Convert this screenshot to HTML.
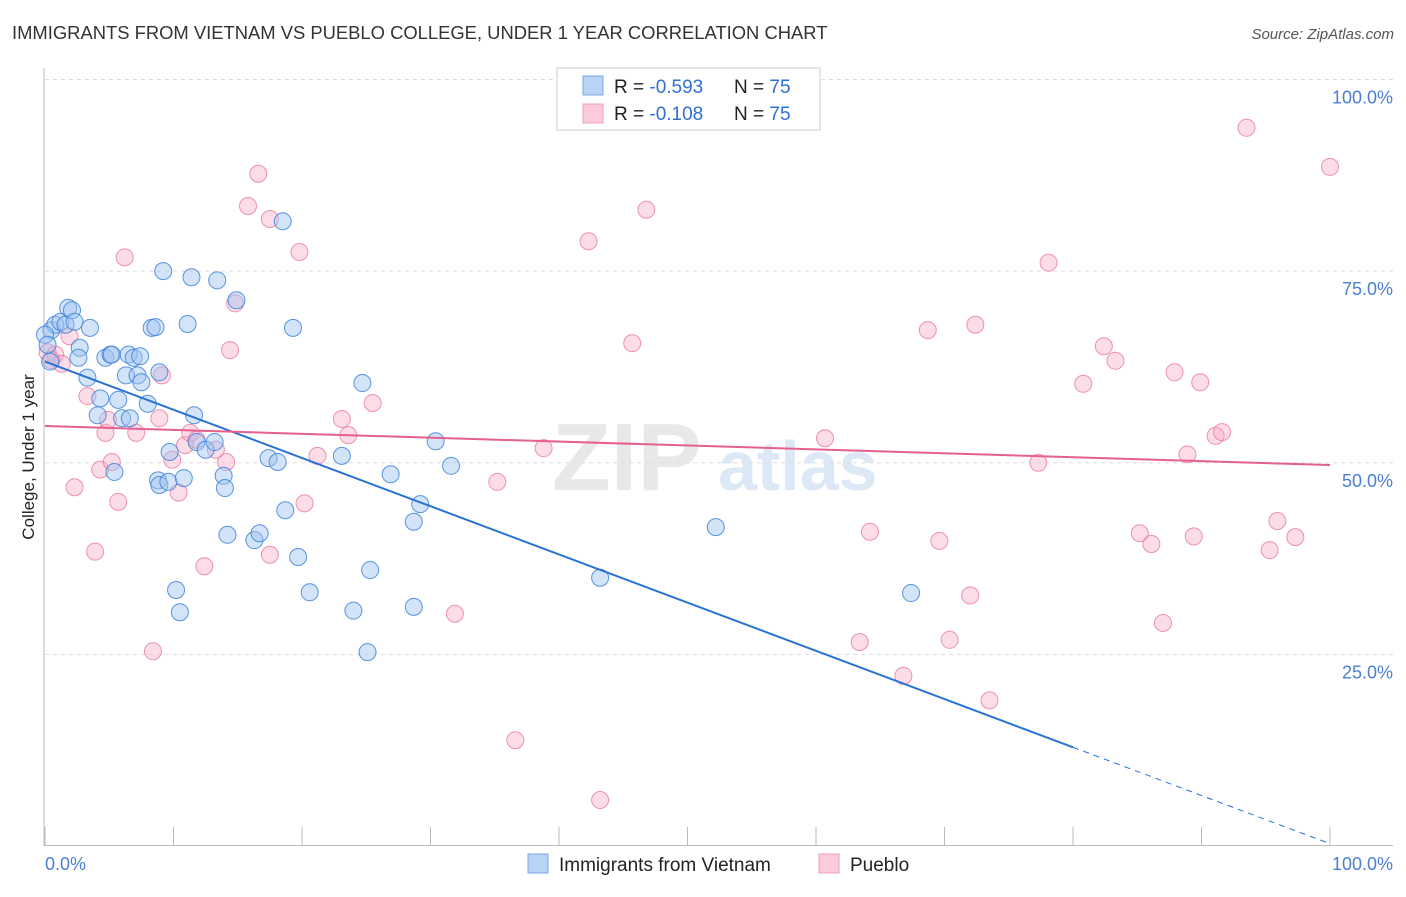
<!DOCTYPE html>
<html><head><meta charset="utf-8"><style>
body{margin:0;background:#fff;font-family:"Liberation Sans",sans-serif;}
svg text{font-family:"Liberation Sans",sans-serif;}
</style></head><body>
<svg id="chart" width="1406" height="892" viewBox="0 0 1406 892">
<text x="12" y="39" font-size="18.4" fill="#333">IMMIGRANTS FROM VIETNAM VS PUEBLO COLLEGE, UNDER 1 YEAR CORRELATION CHART</text>
<text x="1394" y="39" font-size="15" fill="#555" font-style="italic" text-anchor="end">Source: ZipAtlas.com</text>
<g>
<text x="552" y="490" font-size="96" fill="#e8e8e8" font-family="Liberation Serif" font-weight="bold">ZIP</text>
<text x="718" y="490" font-size="70" fill="#dde8f6" font-weight="bold">atlas</text>
</g>
<g id="grid"></g>
<g id="axes"></g>
<g id="pts"></g>
<g id="lines"></g>
<text transform="translate(34,457) rotate(-90)" font-size="17" fill="#222" text-anchor="middle">College, Under 1 year</text>
<text x="45" y="870" font-size="18" fill="#4a7fd4">0.0%</text>
<text x="1393" y="870" font-size="18" fill="#4a7fd4" text-anchor="end">100.0%</text>
<g>
<rect x="557" y="68" width="263" height="62" fill="#fff" stroke="#ccc"/>
<rect x="583" y="76" width="20" height="19" fill="#b9d3f5" stroke="#7aa7e6"/>
<rect x="583" y="104" width="20" height="19" fill="#fbcadb" stroke="#eea0bb"/>
<text x="614" y="93" font-size="19" fill="#222">R = <tspan fill="#2f6fd6">-0.593</tspan></text>
<text x="734" y="93" font-size="19" fill="#222">N = <tspan fill="#2f6fd6">75</tspan></text>
<text x="614" y="120" font-size="19" fill="#222">R = <tspan fill="#2f6fd6">-0.108</tspan></text>
<text x="734" y="120" font-size="19" fill="#222">N = <tspan fill="#2f6fd6">75</tspan></text>
</g>
<g>
<rect x="528" y="854" width="20" height="19" fill="#b9d3f5" stroke="#7aa7e6"/>
<text x="559" y="871" font-size="19" fill="#222">Immigrants from Vietnam</text>
<rect x="819" y="854" width="20" height="19" fill="#fbcadb" stroke="#eea0bb"/>
<text x="850" y="871" font-size="19" fill="#222">Pueblo</text>
</g>
</svg>
<script>
const yTicks=[25,50,75,100];
const yTickLabels=["25.0%","50.0%","75.0%","100.0%"];
const xTicks=[0,10,20,30,40,50,60,70,80,90,100];
const blueX=[0.4,0.5,0.8,1.2,1.6,1.8,2.1,2.3,2.7,2.6,3.3,3.5,4.1,4.3,4.7,5.1,5.2,5.4,5.7,6.0,6.3,6.5,6.6,6.9,7.2,7.5,8.0,8.3,8.6,8.8,8.9,9.2,9.6,9.7,10.2,10.5,10.8,11.1,11.4,11.6,11.8,12.5,13.2,13.4,13.9,14.0,14.2,14.9,16.3,16.7,17.4,18.1,18.5,18.7,19.3,19.7,20.6,23.1,24.0,24.7,25.1,25.3,26.9,28.7,28.7,29.2,30.4,31.6,43.2,52.2,67.4,0,0.2,8.9,7.4];
const blueY=[63.2,67.3,68.0,68.4,68.0,70.2,69.9,68.4,65.0,63.7,61.1,67.6,56.2,58.4,63.7,64.1,64.1,48.8,58.2,55.8,61.4,64.1,55.8,63.7,61.4,60.5,57.7,67.6,67.7,47.7,47.1,75.0,47.5,51.4,33.4,30.5,48.0,68.1,74.2,56.2,52.7,51.7,52.7,73.8,48.3,46.7,40.6,71.2,39.9,40.8,50.6,50.1,81.5,43.8,67.6,37.7,33.1,50.9,30.7,60.4,25.3,36.0,48.5,42.3,31.2,44.6,52.8,49.6,35.0,41.6,33.0,66.7,65.4,61.8,63.9];
const pinkX=[0.2,0.8,1.3,1.9,2.3,3.3,3.9,4.3,4.7,5.2,5.7,6.2,7.1,8.4,8.9,9.1,9.9,10.4,10.9,11.3,11.8,12.4,14.1,14.4,14.8,15.8,16.6,17.5,17.5,19.8,20.2,21.2,23.1,23.6,25.5,31.9,35.2,36.6,38.8,42.3,43.2,45.7,46.8,60.7,63.4,64.2,66.8,68.7,69.6,70.4,72.0,72.4,73.5,77.3,78.1,80.8,82.4,83.3,85.2,86.1,87.0,87.9,88.9,89.4,89.9,91.1,91.6,93.5,95.3,95.9,97.3,100,0.5,4.9,13.3];
const pinkY=[64.4,64.1,62.9,66.5,46.8,58.7,38.4,49.1,53.9,50.1,44.9,76.8,53.9,25.4,55.8,61.4,50.4,46.1,52.3,53.9,53.0,36.5,50.1,64.7,70.8,83.5,87.7,81.8,38.0,77.5,44.7,50.9,55.7,53.6,57.8,30.3,47.5,13.8,51.9,78.9,6.0,65.6,83.0,53.2,26.6,41.0,22.2,67.3,39.8,26.9,32.7,68.0,19.0,50.0,76.1,60.3,65.2,63.3,40.8,39.4,29.1,61.8,51.1,40.4,60.5,53.5,54.0,93.7,38.6,42.4,40.3,88.6,63.4,55.6,51.7];
const blueTrend=[63.2,-0.629];
const pinkTrend=[54.8,-0.051];
const blueSolidEnd=80;

const NS="http://www.w3.org/2000/svg";
const X0=45,X1=1330,Y0=846,Y100=79.5;
const sx=v=>X0+(X1-X0)*v/100;
const sy=v=>Y0-(Y0-Y100)*v/100;
function mk(tag,attrs,parent){const e=document.createElementNS(NS,tag);for(const k in attrs)e.setAttribute(k,attrs[k]);parent.appendChild(e);return e;}
const grid=document.getElementById('grid'),axes=document.getElementById('axes'),pts=document.getElementById('pts'),lines=document.getElementById('lines');
yTicks.forEach((t,i)=>{
  const l=mk('line',{x1:X0,x2:1393,y1:sy(t),y2:sy(t),stroke:'#ddd','stroke-dasharray':'4,4'},grid);
  
  
  const tx=mk('text',{x:1393,y:sy(t)+24,'font-size':18,fill:'#4a7fd4','text-anchor':'end'},axes);
  tx.textContent=yTickLabels[i];
  
  
});
let a=mk('line',{x1:44,x2:44,y1:68,y2:846,stroke:'#bbb'},axes);


a=mk('line',{x1:44,x2:1393,y1:845.5,y2:845.5,stroke:'#bbb'},axes);


xTicks.forEach(t=>{
  const l=mk('line',{x1:sx(t),x2:sx(t),y1:827,y2:846,stroke:'#bbb'},axes);
  
  
});
pinkX.forEach((x,i)=>{
  const c=mk('circle',{cx:sx(x),cy:sy(pinkY[i]),r:8.5,fill:'rgba(248,170,195,0.4)',stroke:'rgba(232,120,160,0.8)','stroke-width':1},pts);
  
  
});
blueX.forEach((x,i)=>{
  const c=mk('circle',{cx:sx(x),cy:sy(blueY[i]),r:8.5,fill:'rgba(160,195,240,0.45)',stroke:'rgba(60,130,220,0.85)','stroke-width':1},pts);
  
  
});
const bf=x=>blueTrend[0]+blueTrend[1]*x, pf=x=>pinkTrend[0]+pinkTrend[1]*x;
let t=mk('line',{x1:sx(0),y1:sy(bf(0)),x2:sx(blueSolidEnd),y2:sy(bf(blueSolidEnd)),stroke:'#2a72d8','stroke-width':2},lines);


t=mk('line',{x1:sx(blueSolidEnd),y1:sy(bf(blueSolidEnd)),x2:sx(100),y2:sy(bf(100)),stroke:'#2a72d8','stroke-width':1,'stroke-dasharray':'6,5'},lines);


t=mk('line',{x1:sx(0),y1:sy(pf(0)),x2:sx(100),y2:sy(pf(100)),stroke:'#e5608e','stroke-width':2},lines);


</script>
</body></html>
